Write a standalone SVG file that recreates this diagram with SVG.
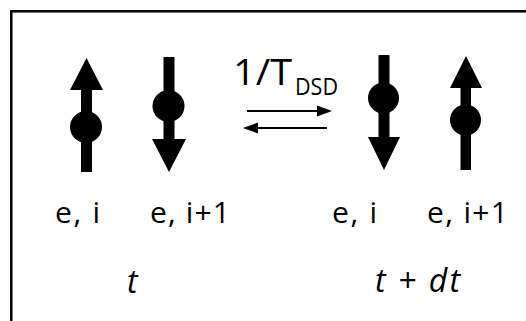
<svg xmlns="http://www.w3.org/2000/svg" width="526" height="321" viewBox="0 0 526 321">
<style>
.spin{fill:#000}
.lbl{font-family:"Open Sans","Liberation Sans",Arial,sans-serif;font-size:30px;fill:#000}
.time{font-family:"Open Sans","Liberation Sans",Arial,sans-serif;font-size:32px;font-style:italic;fill:#000}
.rate{font-family:"Open Sans","Liberation Sans",Arial,sans-serif;fill:#000}
.conn{stroke:#000;stroke-width:2;fill:none}
</style>
<rect x="0" y="0" width="526" height="321" fill="#fff"/>
<rect x="11.3" y="11.3" width="600" height="600" fill="none" stroke="#000" stroke-width="2.5"/>
<g id="spin-e-i-t">
<polygon class="spin" points="86.5,58 103,90 92,90 92,172 81,172 81,90 70,90"/>
<circle class="spin" cx="86" cy="127" r="16"/>
</g>
<g id="spin-e-i1-t">
<polygon class="spin" points="169,172 186,139 174.5,139 174.5,57 163.5,57 163.5,139 152,139"/>
<circle class="spin" cx="168.5" cy="106" r="16"/>
</g>
<g id="spin-e-i-tdt">
<polygon class="spin" points="384,170 400,137 389.5,137 389.5,55 378.5,55 378.5,137 368,137"/>
<circle class="spin" cx="383.5" cy="98" r="15.5"/>
</g>
<g id="spin-e-i1-tdt">
<polygon class="spin" points="466,56 482,88 471,88 471,170 460.5,170 460.5,88 450,88"/>
<circle class="spin" cx="465.5" cy="120" r="15.5"/>
</g>
<g id="connectors">
<line class="conn" x1="247" y1="111" x2="318" y2="111"/>
<polygon points="332,111 317,105.5 317,116.5" fill="#000"/>
<line class="conn" x1="327" y1="128" x2="257" y2="128"/>
<polygon points="243,128 258,122.5 258,133.5" fill="#000"/>
</g>
<g id="rate-label">
<text class="rate" x="233" y="85" font-size="37" textLength="59" lengthAdjust="spacingAndGlyphs">1/T</text>
<text class="rate" x="295" y="95" font-size="24" textLength="43" lengthAdjust="spacingAndGlyphs">DSD</text>
</g>
<g id="labels">
<text class="lbl" x="55" y="223" textLength="45">e, i</text>
<text class="lbl" x="150" y="223" textLength="80">e, i+1</text>
<text class="lbl" x="332" y="223" textLength="45">e, i</text>
<text class="lbl" x="427" y="223" textLength="81">e, i+1</text>
<text class="time" x="127" y="293">t</text>
<text class="time" x="375" y="292" textLength="85">t + dt</text>
</g>
</svg>
